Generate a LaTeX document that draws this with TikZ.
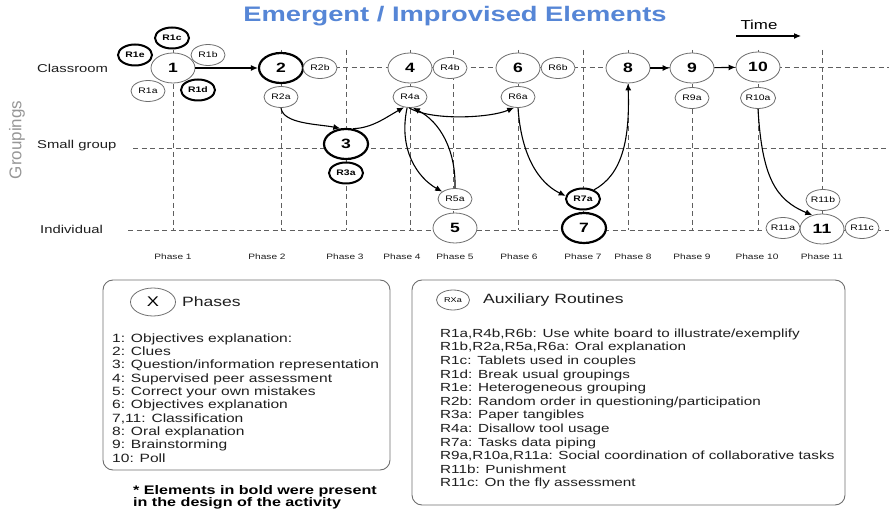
\documentclass[tikz,border=0pt]{standalone}
\usepackage{fontspec}
\setmainfont{Liberation Sans}[FakeStretch=1.3]
\newfontfamily\uprightsans{Liberation Sans}
\usetikzlibrary{shapes.geometric,arrows.meta}
\definecolor{titleblue}{RGB}{86,134,214}
\definecolor{gridgray}{RGB}{95,95,95}
\definecolor{rimgray}{RGB}{110,110,110}
\definecolor{axisgray}{RGB}{150,150,150}
\definecolor{textdark}{RGB}{30,30,30}
\newcommand{\fsz}[1]{\fontsize{#1}{#1}\selectfont}

\begin{document}
\begin{tikzpicture}[x=1pt,y=-1pt,
  grid/.style={gridgray, line width=0.9pt, dash pattern=on 5pt off 3.5pt},
  phasenode/.style={ellipse, draw=rimgray, line width=0.8pt, fill=white,
    minimum width=44pt, minimum height=30pt, inner sep=0pt, font=\fsz{13.5}\bfseries},
  phasebold/.style={phasenode, draw=black, line width=2.2pt},
  auxnode/.style={ellipse, draw=rimgray, line width=0.8pt, fill=white,
    minimum width=34pt, minimum height=21pt, inner sep=0pt, font=\fsz{8}},
  auxbold/.style={auxnode, draw=black, line width=2pt, font=\fsz{8}\bfseries},
  conn/.style={black, line width=1.1pt, -{Latex[length=7pt,width=6pt]}},
  rowlabel/.style={anchor=west, inner sep=0pt, font=\fsz{11.4}, text=textdark},
  phaselabel/.style={inner sep=0pt, font=\fsz{7.8}, text=textdark},
  legendbox/.style={draw=rimgray, line width=0.9pt, rounded corners=10pt},
  legendline/.style={anchor=base west, inner sep=0pt, font=\fsz{12}, text=textdark},
  routineline/.style={anchor=base west, inner sep=0pt, font=\fsz{11.75}, text=textdark},
  legendhead/.style={anchor=west, inner sep=0pt, font=\fsz{13.5}, text=textdark},
  footline/.style={anchor=base west, inner sep=0pt, font=\fsz{12.4}\bfseries, text=black}
]
\useasboundingbox (0,0) rectangle (889,510);

% title
\node[font=\fsz{21}\bfseries, text=titleblue] (title) at (455,16) {Emergent / Improvised Elements};

% time axis
\node[inner sep=0pt, font=\fsz{13}] (time) at (759,25) {Time};
\coordinate (t0) at (736,36);
\coordinate (t1) at (801,36);
\draw[conn] (t0) -- (t1);

% groupings axis
\node[rotate=90, font=\uprightsans\fsz{17}, text=axisgray] (groupings) at (17,140) {Groupings};
\node[rowlabel] (classroom) at (37,68) {Classroom};
\node[rowlabel] (smallgroup) at (37,146) {Small group};
\node[rowlabel] (individual) at (40,229) {Individual};

% dashed grid
\draw[grid] (173,67) -- (889,67);
\draw[grid] (133,148) -- (889,148);
\draw[grid] (128,230) -- (889,230);
\foreach \px in {173,281,346,410,453,518,583,628,692,758,822}
  \draw[grid] (\px,50) -- (\px,230);

% phase labels
\foreach \lx/\lt in {173/1,267/2,345/3,402/4,455/5,519/6,583/7,633/8,692/9,757/10,822/11}
  \node[phaselabel] (plab\lt) at (\lx,257) {Phase \lt};

% phases and auxiliary routines
\node[phasenode] (n1) at (173,68) {1};
\node[auxbold] (r1c) at (172,38) {R1c};
\node[auxbold] (r1e) at (135,55) {R1e};
\node[auxnode] (r1b) at (208,55) {R1b};
\node[auxnode] (r1a) at (148,91) {R1a};
\node[auxbold] (r1d) at (198,90) {R1d};

\node[phasebold] (n2) at (281,68) {2};
\node[auxnode] (r2b) at (320,68) {R2b};
\node[auxnode] (r2a) at (281,97) {R2a};

\node[phasebold] (n3) at (346,144) {3};
\node[auxbold] (r3a) at (346,173) {R3a};

\node[phasenode] (n4) at (410,68) {4};
\node[auxnode] (r4b) at (450,68) {R4b};
\node[auxnode] (r4a) at (410,97) {R4a};

\node[auxnode] (r5a) at (455,199) {R5a};
\node[phasenode] (n5) at (455,228) {5};

\node[phasenode] (n6) at (518,68) {6};
\node[auxnode] (r6b) at (558,68) {R6b};
\node[auxnode] (r6a) at (518,97) {R6a};

\node[auxbold] (r7a) at (583,199) {R7a};
\node[phasebold] (n7) at (584,228) {7};

\node[phasenode] (n8) at (628,68) {8};
\node[phasenode] (n9) at (692,68) {9};
\node[auxnode] (r9a) at (692,98) {R9a};
\node[phasenode] (n10) at (758,67) {10};
\node[auxnode] (r10a) at (758,98) {R10a};

\node[auxnode] (r11b) at (823,200) {R11b};
\node[phasenode] (n11) at (822,229) {11};
\node[auxnode] (r11a) at (783,228) {R11a};
\node[auxnode] (r11c) at (862,228) {R11c};

% flow between phases
\draw[conn] (n1) -- (n2);
\draw[conn] (r2a.south) .. controls (283,124) and (318,124) .. (n3.110);
\draw[conn] (n3.65) .. controls (372,128) and (385,118) .. (r4a.240);
\draw[conn] (r4a.265) .. controls (432,121) and (490,118) .. (r6a.250);
\draw[conn] (r4a.255) .. controls (398,150) and (418,178) .. (r5a.150);
\draw[conn] (r5a.north) .. controls (456,150) and (440,122) .. (r4a.285);
\draw[conn] (r6a.south) .. controls (522,165) and (545,186) .. (r7a.170);
\draw[conn] (r7a.40) .. controls (622,175) and (630,140) .. (n8.south);
\draw[conn] (n8) -- (n9);
\draw[conn] (n9) -- (n10);
\draw[conn] (r10a.south) .. controls (762,178) and (776,200) .. (n11.125);

% legend: phases
\draw[legendbox] (103,280) rectangle (390,470);
\node[ellipse, draw=rimgray, line width=0.8pt, minimum width=45pt, minimum height=28pt,
  inner sep=0pt, font=\fsz{14}] (xkey) at (153,302) {X};
\node[legendhead] (phaseshead) at (182,302) {Phases};
\foreach \t [count=\i from 0] in {{1: Objectives explanation:},{2: Clues},
    {3: Question/information representation},{4: Supervised peer assessment},
    {5: Correct your own mistakes},{6: Objectives explanation},
    {7,11: Classification},{8: Oral explanation},{9: Brainstorming},{10: Poll}}
  \node[legendline] (ph\i) at (112,342.3+13.3*\i) {\t};

% legend: auxiliary routines
\draw[legendbox] (412,280) rectangle (845,505);
\node[ellipse, draw=rimgray, line width=0.8pt, minimum width=33pt, minimum height=20pt,
  inner sep=0pt, font=\fsz{7}] (rkey) at (453,300) {RXa};
\node[legendhead] (auxhead) at (483,300) {Auxiliary Routines};
\foreach \t [count=\i from 0] in {{R1a,R4b,R6b: Use white board to illustrate/exemplify},
    {R1b,R2a,R5a,R6a: Oral explanation},{R1c: Tablets used in couples},
    {R1d: Break usual groupings},{R1e: Heterogeneous grouping},
    {R2b: Random order in questioning/participation},{R3a: Paper tangibles},
    {R4a: Disallow tool usage},{R7a: Tasks data piping},
    {R9a,R10a,R11a: Social coordination of collaborative tasks},
    {R11b: Punishment},{R11c: On the fly assessment}}
  \node[routineline] (rt\i) at (440,337.3+13.6*\i) {\t};

% note on bold elements
\node[footline] (note1) at (133,494) {* Elements in bold were present};
\node[footline] (note2) at (133,506.5) {in the design of the activity};
\end{tikzpicture}
\end{document}
